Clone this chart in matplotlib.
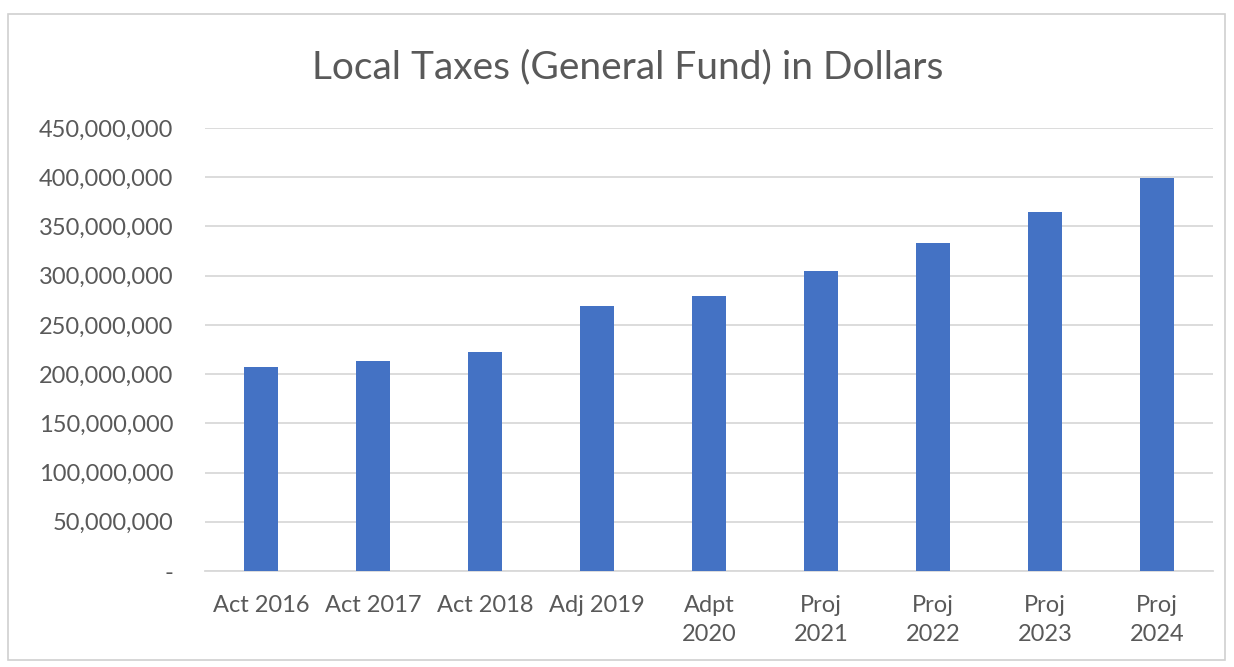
import matplotlib.pyplot as plt
from matplotlib.patches import Rectangle
from matplotlib.ticker import FuncFormatter

# data
categories = ["Act 2016", "Act 2017", "Act 2018", "Adj 2019", "Adpt\n2020",
              "Proj\n2021", "Proj\n2022", "Proj\n2023", "Proj\n2024"]
taxes = [207_500_000, 213_500_000, 222_500_000, 269_000_000, 279_500_000,
         305_000_000, 333_000_000, 364_500_000, 399_000_000]
yticks = list(range(0, 450_000_001, 50_000_000))

barColor  = "#4472C4"
gridColor = "#D9D9D9"
textColor = "#595959"

plt.rcParams['font.family'] = ['Lato', 'DejaVu Sans']

fig = plt.figure(figsize=(12.34, 6.67), dpi=100)
fig.patch.set_facecolor("white")

# chart frame
fig.patches.append(Rectangle((8 / 1234, 7 / 667), 1217 / 1234, 646 / 667,
                             transform=fig.transFigure, fill=False,
                             edgecolor="#D0D0D0", linewidth=1.2))

ax = fig.add_axes([205 / 1234, 1 - 571 / 667, 1008 / 1234, 443 / 667])

x = range(len(categories))
ax.bar(x, taxes, width=0.31, color=barColor, zorder=3)

ax.set_xlim(-0.5, len(categories) - 0.5)
ax.set_ylim(0, 450_000_000)
ax.set_yticks(yticks)
ax.yaxis.set_major_formatter(FuncFormatter(lambda v, p: "-" if v == 0 else f"{int(v):,}"))
ax.set_xticks(list(x))
ax.set_xticklabels(categories, linespacing=1.5)

ax.grid(axis="y", color=gridColor, linewidth=1.3, zorder=0)
for s in ["top", "right", "left"]:
    ax.spines[s].set_visible(False)
ax.spines["bottom"].set_color(gridColor)
ax.spines["bottom"].set_linewidth(1.3)

ax.tick_params(axis="both", length=0, labelsize=17, labelcolor=textColor)
ax.tick_params(axis="y", pad=23)
ax.tick_params(axis="x", pad=17)
for lbl in ax.get_xticklabels():
    lbl.set_verticalalignment("top")

fig.text(628 / 1234, 1 - 67 / 667, "Local Taxes (General Fund) in Dollars",
         ha="center", va="center", fontsize=28, color=textColor)

plt.savefig("out.png", dpi=100)
